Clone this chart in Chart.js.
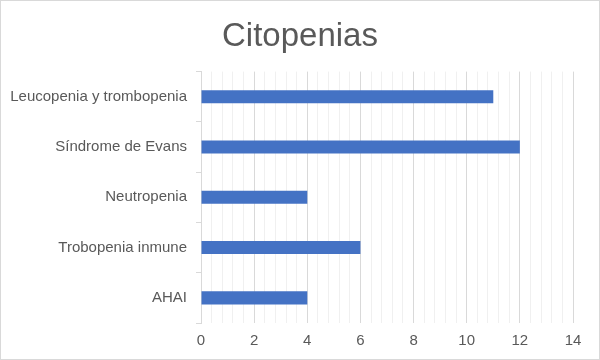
<!DOCTYPE html>
<html>
<head>
<meta charset="utf-8">
<script src="https://cdn.jsdelivr.net/npm/chart.js@4/dist/chart.umd.min.js"></script>
<style>
  body { margin: 0; background: #fff; }
  #wrap { width: 600px; height: 360px; }
</style>
</head>
<body>
<div id="wrap"><canvas id="citopenias" width="600" height="360"></canvas></div>
<script>
// Citopenias - horizontal bars

const categories = ["Leucopenia y trombopenia", "Síndrome de Evans", "Neutropenia", "Trobopenia inmune", "AHAI"];
const values = [11, 12, 4, 6, 4];
const xMax = 14;
const xStep = 0.4; // minor grid, labels every 2

const isMajor = (v) => Math.abs(v / 2 - Math.round(v / 2)) < 1e-6;

// light frame around the whole picture
const framePlugin = {
	id: "frame",
	afterDraw(chart) {
		const ctx = chart.ctx;
		ctx.save();
		ctx.strokeStyle = "#d9d9d9";
		ctx.lineWidth = 1;
		ctx.strokeRect(0.5, 0.5, chart.width - 1, chart.height - 1);
		ctx.restore();
	},
};

const data = {
	labels: categories,
	datasets: [
		{
			label: "Citopenias",
			data: values,
			backgroundColor: "#4472C4",
			borderWidth: 0,
			barPercentage: 0.26,
			categoryPercentage: 1,
		},
	],
};

const config = {
	type: "bar",
	data: data,
	options: {
		indexAxis: "y",
		responsive: false,
		animation: false,
		layout: { padding: 0 },
		plugins: {
			legend: { display: false },
			tooltip: { enabled: false },
			title: {
				display: true,
				text: "Citopenias",
				color: "#595959",
				font: { family: "Liberation Sans, Arial", size: 33, weight: "normal" },
				padding: { top: 17, bottom: 15 },
			},
		},
		scales: {
			x: {
				min: 0,
				max: xMax,
				ticks: {
					stepSize: xStep,
					autoSkip: false,
					maxRotation: 0,
					color: "#595959",
					padding: 9,
					font: { family: "Liberation Sans, Arial", size: 15 },
					callback: (v) => (isMajor(v) ? Math.round(v) : ""),
				},
				grid: {
					drawTicks: false,
					color: (c) => (c.tick && isMajor(c.tick.value) ? "#d9d9d9" : "#f0f0f0"),
				},
				border: { display: false },
				afterFit: (scale) => {
					scale.height = 37;
				},
			},
			y: {
				ticks: {
					color: "#595959",
					padding: 9,
					font: { family: "Liberation Sans, Arial", size: 15 },
				},
				grid: {
					drawOnChartArea: false,
					tickLength: 5,
					color: "#d9d9d9",
				},
				border: { display: true, color: "#d9d9d9" },
				afterFit: (scale) => {
					scale.width = 201;
				},
			},
			// empty right-hand strip so the plot ends at 14 with the title centred on the page
			spacer: {
				type: "linear",
				position: "right",
				display: true,
				ticks: { display: false },
				grid: { display: false, drawTicks: false },
				border: { display: false },
				afterFit: (scale) => {
					scale.width = 27;
				},
			},
		},
	},
	plugins: [framePlugin],
};

const citopeniasChart = new Chart(document.getElementById("citopenias"), config);
</script>
</body>
</html>
